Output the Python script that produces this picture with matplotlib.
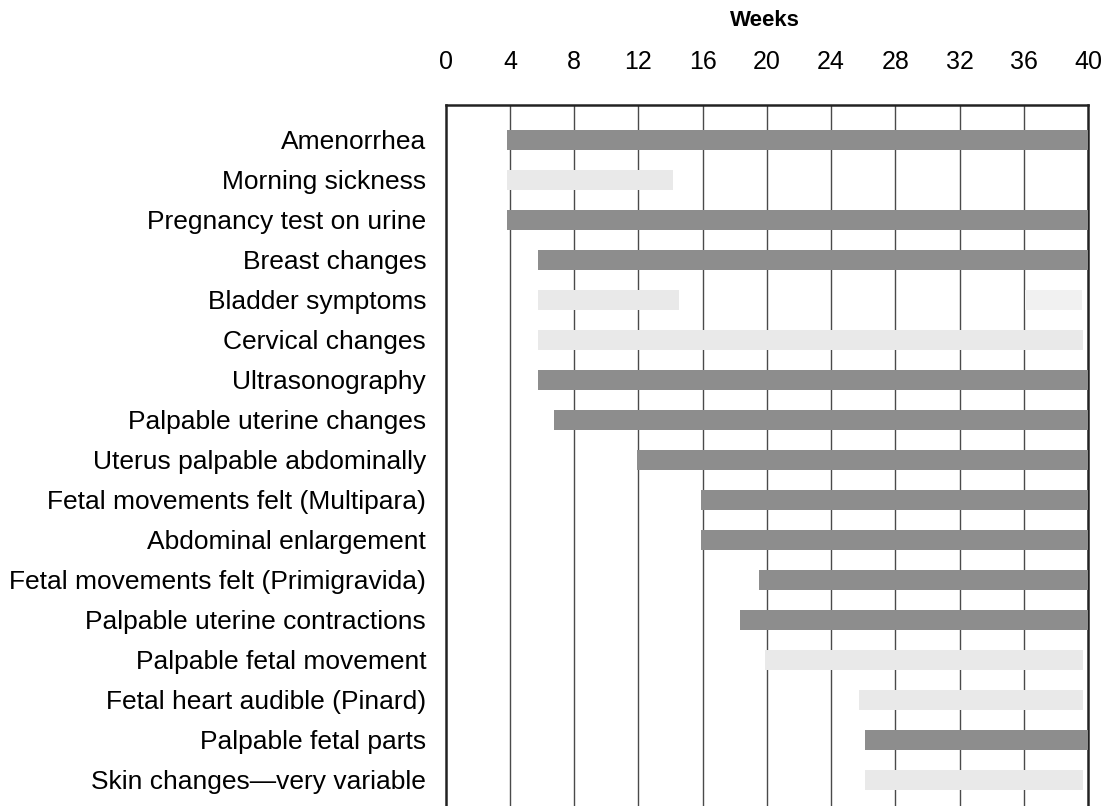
import matplotlib
matplotlib.use('Agg')
from matplotlib import pyplot as plt
from matplotlib import font_manager

# signs of pregnancy, week ranges
signs = ['Amenorrhea', 'Morning sickness', 'Pregnancy test on urine', 'Breast changes',
         'Bladder symptoms', 'Cervical changes', 'Ultrasonography', 'Palpable uterine changes',
         'Uterus palpable abdominally', 'Fetal movements felt (Multipara)', 'Abdominal enlargement',
         'Fetal movements felt (Primigravida)', 'Palpable uterine contractions',
         'Palpable fetal movement', 'Fetal heart audible (Pinard)', 'Palpable fetal parts',
         'Skin changes\u2014very variable']
start_week = [3.8, 3.8, 3.8, 5.75, 5.75, 5.75, 5.75, 6.75, 11.9, 15.9, 15.9,
              19.5, 18.35, 19.9, 25.75, 26.1, 26.1]
end_week = [40, 14.15, 40, 40, 14.5, 39.7, 40, 40, 40, 40, 40,
            40, 40, 39.7, 39.7, 40, 39.7]
# 'dark' = definite, 'light' = variable / faint
shade = ['dark', 'light', 'dark', 'dark', 'light', 'light', 'dark', 'dark', 'dark', 'dark',
         'dark', 'dark', 'dark', 'light', 'light', 'dark', 'light']
# extra faint segment late in pregnancy for bladder symptoms
extra_row = ['Bladder symptoms']
extra_start = [36.1]
extra_end = [39.6]
week_ticks = [0, 4, 8, 12, 16, 20, 24, 28, 32, 36, 40]

colors = {'dark': '#8d8d8d', 'light': '#e9e9e9'}

installed = set(f.name for f in font_manager.fontManager.ttflist)
if 'Liberation Sans Narrow' in installed:
    tick_font, tick_size = 'Liberation Sans Narrow', 21
else:
    tick_font, tick_size = 'Liberation Sans', 18

fig = plt.figure(figsize=(11.17, 8.06), dpi=100)
ax = fig.add_axes([0.399, 0.0, 0.575, 0.870])

rows = list(range(len(signs)))
for i in rows:
    ax.barh(i, end_week[i] - start_week[i], left=start_week[i], height=0.5,
            color=colors[shade[i]], zorder=3)
for name, s, e in zip(extra_row, extra_start, extra_end):
    ax.barh(signs.index(name), e - s, left=s, height=0.5, color='#f1f1f1', zorder=3)

for w in week_ticks[1:-1]:
    ax.axvline(w, color='#4a4a4a', lw=1.0, zorder=1)

ax.set_xlim(0, 40)
ax.set_ylim(16.65, -0.875)
ax.xaxis.tick_top()
ax.set_xticks(week_ticks)
ax.set_xticklabels([str(w) for w in week_ticks], family=tick_font, fontsize=tick_size)
ax.tick_params(axis='x', length=0, pad=22)
ax.set_yticks(rows)
ax.set_yticklabels(signs, family='Liberation Sans', fontsize=19)
ax.tick_params(axis='y', length=0, pad=14)

ax.spines['bottom'].set_visible(False)
for side in ['top', 'left', 'right']:
    ax.spines[side].set_linewidth(1.8)
    ax.spines[side].set_color('#222222')

fig.text(0.685, 0.975, 'Weeks', ha='center', va='center', fontsize=16,
         fontweight='bold', family='Liberation Sans')

plt.savefig('out.png', dpi=100)
